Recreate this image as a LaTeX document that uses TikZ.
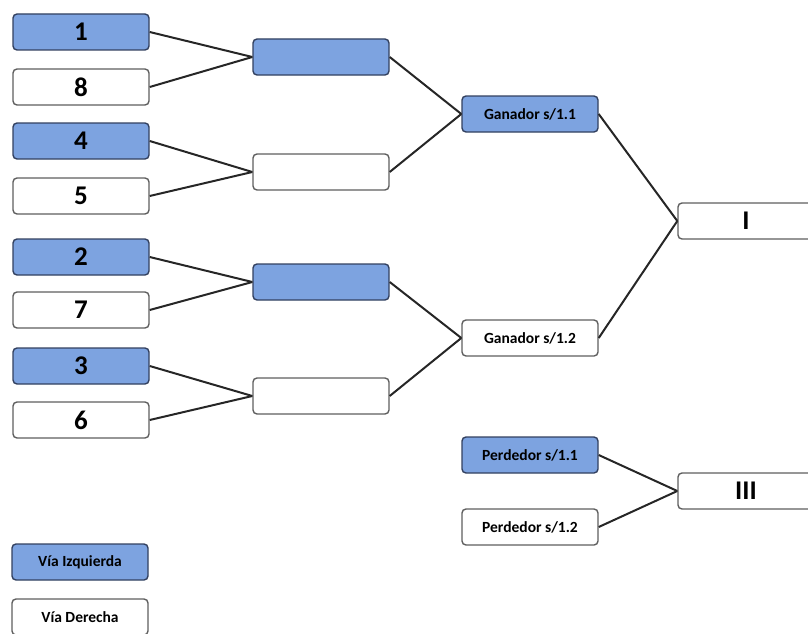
\documentclass[tikz,border=0pt]{standalone}
\usepackage{fontspec}
\setmainfont{Carlito}
\usetikzlibrary{positioning}
\definecolor{viaizq}{RGB}{125,163,224}
\definecolor{bordeizq}{RGB}{50,64,95}
\definecolor{bordeder}{RGB}{95,95,95}

\begin{document}
\begin{tikzpicture}[x=1pt, y=-1pt,
    caja/.style={rounded corners=4pt, line width=1.4pt, minimum width=136pt,
          minimum height=36pt, inner sep=0pt, font=\bfseries\fontsize{27}{29}\selectfont},
    izq/.style={caja, draw=bordeizq, fill=viaizq},
    der/.style={caja, draw=bordeder, fill=white},
    etiq/.style={font=\bfseries\fontsize{15.5}{17}\selectfont},
    enlace/.style={line width=2pt, draw=black!85}]
    \useasboundingbox (0,0) rectangle (808,634);

    % primera ronda
    \node[izq] (n1) at (81,32) {1};
    \node[der] (n8) at (81,87) {8};
    \node[izq] (n4) at (81,141) {4};
    \node[der] (n5) at (81,196) {5};
    \node[izq] (n2) at (81,257) {2};
    \node[der] (n7) at (81,310) {7};
    \node[izq] (n3) at (81,366) {3};
    \node[der] (n6) at (81,420) {6};

    % cuartos
    \node[izq] (r18) at (321,57) {};
    \node[der] (r45) at (321,172) {};
    \node[izq] (r27) at (321,282) {};
    \node[der] (r36) at (321,396) {};

    % semifinales
    \node[izq, etiq] (g1) at (530,114) {Ganador s/1.1};
    \node[der, etiq] (g2) at (530,338) {Ganador s/1.2};
    \node[izq, etiq] (p1) at (530,455) {Perdedor s/1.1};
    \node[der, etiq] (p2) at (530,527) {Perdedor s/1.2};

    % puestos
    \node[der] (fin1) at (746,221) {I};
    \node[der] (fin3) at (746,491) {III};

    % leyenda
    \node[izq, etiq] (leyizq) at (80,562) {Vía Izquierda};
    \node[der, etiq] (leyder) at (80,617) {Vía Derecha};

    \draw[enlace] (n1.east) -- (r18.west);
    \draw[enlace] (n8.east) -- (r18.west);
    \draw[enlace] (n4.east) -- (r45.west);
    \draw[enlace] (n5.east) -- (r45.west);
    \draw[enlace] (n2.east) -- (r27.west);
    \draw[enlace] (n7.east) -- (r27.west);
    \draw[enlace] (n3.east) -- (r36.west);
    \draw[enlace] (n6.east) -- (r36.west);
    \draw[enlace] (r18.east) -- (g1.west);
    \draw[enlace] (r45.east) -- (g1.west);
    \draw[enlace] (r27.east) -- (g2.west);
    \draw[enlace] (r36.east) -- (g2.west);
    \draw[enlace] (g1.east) -- (fin1.west);
    \draw[enlace] (g2.east) -- (fin1.west);
    \draw[enlace] (p1.east) -- (fin3.west);
    \draw[enlace] (p2.east) -- (fin3.west);
\end{tikzpicture}
\end{document}
